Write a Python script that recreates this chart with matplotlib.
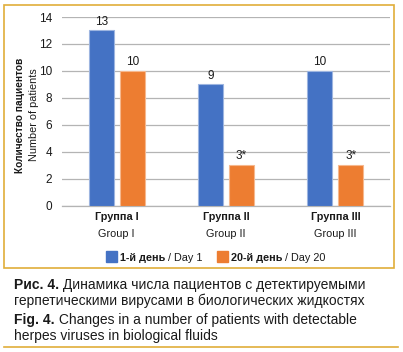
import numpy as np
import matplotlib.pyplot as plt
import matplotlib.patches as mpatches
from matplotlib.lines import Line2D

# ── DATA ──────────────────────────────────────────────────────
groups_ru = ["Группа I", "Группа II", "Группа III"]
groups_en = ["Group I", "Group II", "Group III"]
day1 = [13, 9, 10]
day20 = [10, 3, 3]
day1_labels = ["13", "9", "10"]
day20_labels = ["10", "3*", "3*"]
y_ticks = [0, 2, 4, 6, 8, 10, 12, 14]

# ── STYLE ─────────────────────────────────────────────────────
SANS = ["Liberation Sans", "DejaVu Sans"]
BLUE, BLUE_EDGE = "#4472C4", "#9DB5E0"
ORANGE, ORANGE_EDGE = "#ED7D31", "#F6B88E"
GOLD = "#E0AE3A"
GRID = "#B4B4B4"
TXT = "#1A1A1A"
FS = 7.8

plt.rcParams["font.family"] = SANS

fig = plt.figure(figsize=(4.03, 3.52), dpi=100)
W, H = 403, 352

def fx(px):
    return px / W

def fy(py):
    return 1 - py / H

# frame around chart + line under caption
fig.add_artist(mpatches.Rectangle((fx(4), fy(268)), fx(394) - fx(4), fy(5) - fy(268),
                                  transform=fig.transFigure, fill=False,
                                  edgecolor=GOLD, linewidth=1.2))
fig.add_artist(Line2D([fx(4), fx(398)], [fy(347), fy(347)],
                      transform=fig.transFigure, color=GOLD, linewidth=1.2))

ax = fig.add_axes([fx(62), fy(205.7), fx(390) - fx(62), fy(17) - fy(205.7)])
x = np.arange(len(groups_ru))
w = 0.23
off = 0.142
b1 = ax.bar(x - off, day1, w, color=BLUE, edgecolor=BLUE_EDGE, linewidth=0.8, zorder=3)
b2 = ax.bar(x + off, day20, w, color=ORANGE, edgecolor=ORANGE_EDGE, linewidth=0.8, zorder=3)

for bars, labs in ((b1, day1_labels), (b2, day20_labels)):
    for bar, lab in zip(bars, labs):
        ax.annotate(lab, (bar.get_x() + bar.get_width() / 2, bar.get_height()),
                    xytext=(0, 2), textcoords="offset points",
                    ha="center", va="bottom", fontsize=8.5, color=TXT)

ax.set_xlim(-0.5, 2.5)
ax.set_ylim(0, 14)
ax.set_yticks(y_ticks)
ax.tick_params(axis="y", length=0, labelsize=8.5, labelcolor=TXT, pad=7)
ax.set_xticks([])
ax.grid(axis="y", color=GRID, linewidth=0.9, zorder=0)
for s in ("top", "right", "left"):
    ax.spines[s].set_visible(False)
ax.spines["bottom"].set_color(GRID)
ax.spines["bottom"].set_linewidth(0.9)

# two-line category labels
trans = ax.get_xaxis_transform()
for i in x:
    ax.text(i, -0.035, groups_ru[i], transform=trans, ha="center", va="top",
            fontsize=FS, fontweight="bold", color=TXT)
    ax.text(i, -0.125, groups_en[i], transform=trans, ha="center", va="top",
            fontsize=FS, color=TXT)

# y axis label, two lines
fig.text(fx(20), fy(115), "Количество пациентов", rotation=90, ha="center", va="center",
         fontsize=7.3, fontweight="bold", color=TXT)
fig.text(fx(34), fy(115), "Number of patients", rotation=90, ha="center", va="center",
         fontsize=7.8, color=TXT)

# legend, built by hand for mixed weights
def legend_item(px, color, bold, rest):
    fig.add_artist(mpatches.Rectangle((fx(px), fy(262)), fx(11), 11 / H,
                                      transform=fig.transFigure, color=color))
    t = fig.text(fx(px + 14), fy(261), bold, ha="left", va="baseline",
                 fontsize=FS, fontweight="bold", color=TXT)
    ax.annotate(" / " + rest, xy=(1, 0), xycoords=t, va="bottom", ha="left",
                fontsize=FS, color=TXT, annotation_clip=False)

legend_item(106, BLUE, "1-й день", "Day 1")
legend_item(217, ORANGE, "20-й день", "Day 20")

# caption
def caption_line(py, bold, rest):
    if bold:
        t = fig.text(fx(14), fy(py), bold, ha="left", va="baseline",
                     fontsize=10, fontweight="bold", color=TXT)
        ax.annotate(" " + rest, xy=(1, 0), xycoords=t, va="bottom", ha="left",
                    fontsize=10, color=TXT, annotation_clip=False)
    else:
        fig.text(fx(14), fy(py), rest, ha="left", va="baseline",
                 fontsize=10, color=TXT)

caption_line(289, "Рис. 4.", "Динамика числа пациентов с детектируемыми")
caption_line(305, "", "герпетическими вирусами в биологических жидкостях")
caption_line(324, "Fig. 4.", "Changes in a number of patients with detectable")
caption_line(340, "", "herpes viruses in biological fluids")

fig.savefig("out.png", dpi=100)
